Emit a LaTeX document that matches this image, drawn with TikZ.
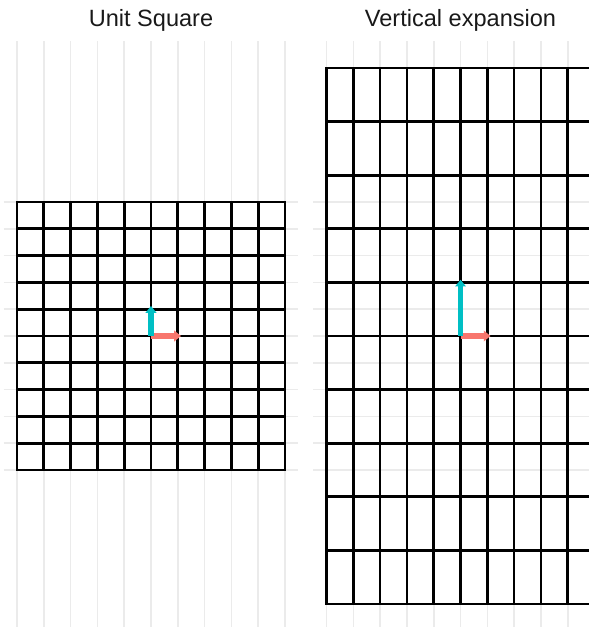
\documentclass[tikz,border=0pt]{standalone}
\usepackage{fontspec}
\setmainfont{Liberation Sans}
\usetikzlibrary{arrows.meta}
\definecolor{gridgray}{HTML}{EBEBEB}
\definecolor{vecred}{HTML}{F8766D}
\definecolor{veccyan}{HTML}{00BFC4}
\begin{document}
\begin{tikzpicture}[x=0.5cm,y=0.5cm,
  bgline/.style={gridgray,line width=0.8pt},
  mesh/.style={black,line width=1.4pt,line cap=rect},
  basisvec/.style={line width=2.8pt,-{Triangle[length=3.6pt,width=5.6pt]}},
  paneltitle/.style={anchor=base,text=black!90,font=\fontsize{12.5}{15}\selectfont}]
\useasboundingbox (-5.634,-10.858) rectangle (16.343,12.537);
\clip (-5.634,-10.858) rectangle (16.343,12.537);
% left panel: unit square
\node[paneltitle] (unittitle) at (0.000,11.530) {Unit Square};
\draw[bgline] (-5,-11) -- (-5,11) (-4,-11) -- (-4,11) (-3,-11) -- (-3,11) (-2,-11) -- (-2,11)
  (-1,-11) -- (-1,11) (0,-11) -- (0,11) (1,-11) -- (1,11) (2,-11) -- (2,11)
  (3,-11) -- (3,11) (4,-11) -- (4,11) (5,-11) -- (5,11);
\draw[bgline] (-5.5,-5) -- (5.5,-5) (-5.5,-4) -- (5.5,-4) (-5.5,-3) -- (5.5,-3) (-5.5,-2) -- (5.5,-2)
  (-5.5,-1) -- (5.5,-1) (-5.5,0) -- (5.5,0) (-5.5,1) -- (5.5,1) (-5.5,2) -- (5.5,2)
  (-5.5,3) -- (5.5,3) (-5.5,4) -- (5.5,4) (-5.5,5) -- (5.5,5);
\draw[mesh,xstep=1,ystep=1] (-5,-5) grid (5,5);
\coordinate (o1) at (0,0);
\coordinate (i1) at (1.120,0);
\coordinate (j1) at (0,1.120);
\draw[basisvec,vecred] (o1) -- (i1);
\draw[basisvec,veccyan] (o1) -- (j1);
% right panel: vertical expansion
\begin{scope}[shift={(11.550,0)}]
\node[paneltitle] (verttitle) at (0.000,11.530) {Vertical expansion};
\draw[bgline] (-5,-11) -- (-5,11) (-4,-11) -- (-4,11) (-3,-11) -- (-3,11) (-2,-11) -- (-2,11)
  (-1,-11) -- (-1,11) (0,-11) -- (0,11) (1,-11) -- (1,11) (2,-11) -- (2,11)
  (3,-11) -- (3,11) (4,-11) -- (4,11) (5,-11) -- (5,11);
\draw[bgline] (-5.5,-5) -- (5.5,-5) (-5.5,-4) -- (5.5,-4) (-5.5,-3) -- (5.5,-3) (-5.5,-2) -- (5.5,-2)
  (-5.5,-1) -- (5.5,-1) (-5.5,0) -- (5.5,0) (-5.5,1) -- (5.5,1) (-5.5,2) -- (5.5,2)
  (-5.5,3) -- (5.5,3) (-5.5,4) -- (5.5,4) (-5.5,5) -- (5.5,5);
\draw[mesh,xstep=1,ystep=2] (-5,-10) grid (5,10);
\coordinate (o2) at (0,0);
\coordinate (i2) at (1.120,0);
\coordinate (j2) at (0,2.100);
\draw[basisvec,vecred] (o2) -- (i2);
\draw[basisvec,veccyan] (o2) -- (j2);
\end{scope}
\end{tikzpicture}
\end{document}
